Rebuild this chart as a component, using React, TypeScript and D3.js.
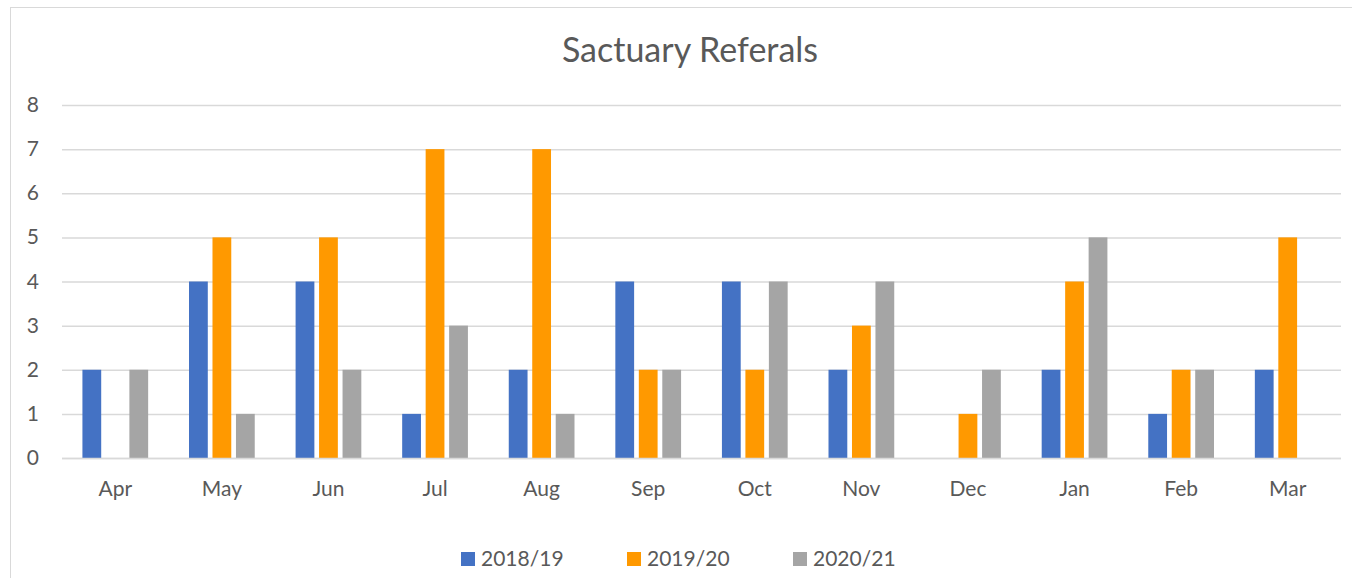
import React, { useEffect, useRef } from 'react';
import * as d3 from 'd3';

const months = ['Apr', 'May', 'Jun', 'Jul', 'Aug', 'Sep', 'Oct', 'Nov', 'Dec', 'Jan', 'Feb', 'Mar'];
const seriesNames = ['2018/19', '2019/20', '2020/21'];
const colors = ['#4472C4', '#FF9900', '#A5A5A5'];
const v2018 = [2, 4, 4, 1, 2, 4, 4, 2, 0, 2, 1, 2];
const v2019 = [0, 5, 5, 7, 7, 2, 2, 3, 1, 4, 2, 5];
const v2020 = [2, 1, 2, 3, 1, 2, 4, 4, 2, 5, 2, 0];
const yTicks = [0, 1, 2, 3, 4, 5, 6, 7, 8];

const W = 1352;
const H = 578;
const FONT = 'Lato, "Open Sans", sans-serif';

export default function App() {
    const ref = useRef<SVGSVGElement>(null);

    useEffect(() => {
        const svg = d3.select(ref.current);
        svg.selectAll('*').remove();

        const left = 62, right = 1341, top = 105, bottom = 458;
        const data = [v2018, v2019, v2020];

        svg.append('rect')
            .attr('x', 10.5).attr('y', 7.5)
            .attr('width', W).attr('height', H)
            .attr('fill', '#fff')
            .attr('stroke', '#d9d9d9');

        svg.append('text')
            .attr('x', 690).attr('y', 62)
            .attr('text-anchor', 'middle')
            .attr('font-size', 34)
            .attr('fill', '#595959')
            .text('Sactuary Referals');

        const x = d3.scaleBand().domain(months).range([left, right]);
        const y = d3.scaleLinear().domain([0, 8]).range([bottom, top]);
        const inner = d3.scaleBand().domain(seriesNames)
            .range([0, x.bandwidth()]).paddingInner(0.2).paddingOuter(0.87);

        svg.append('g').selectAll('line').data(yTicks).enter().append('line')
            .attr('x1', left).attr('x2', right)
            .attr('y1', d => y(d) + 0.5).attr('y2', d => y(d) + 0.5)
            .attr('stroke', '#d9d9d9').attr('stroke-width', 1.5);

        svg.append('g').selectAll('text').data(yTicks).enter().append('text')
            .attr('x', 39).attr('y', d => y(d) + 7)
            .attr('text-anchor', 'end')
            .attr('font-size', 21).attr('fill', '#595959')
            .text(d => d);

        data.forEach((vals, si) => {
            svg.append('g').selectAll('rect').data(vals).enter().append('rect')
                .attr('x', (d, i) => (x(months[i]) as number) + (inner(seriesNames[si]) as number))
                .attr('y', d => y(d))
                .attr('width', inner.bandwidth())
                .attr('height', d => bottom - y(d))
                .attr('fill', colors[si]);
        });

        svg.append('line')
            .attr('x1', left).attr('x2', right)
            .attr('y1', bottom + 0.5).attr('y2', bottom + 0.5)
            .attr('stroke', '#d9d9d9').attr('stroke-width', 1.5);

        svg.append('g').selectAll('text').data(months).enter().append('text')
            .attr('x', d => (x(d) as number) + x.bandwidth() / 2)
            .attr('y', 496)
            .attr('text-anchor', 'middle')
            .attr('font-size', 21).attr('fill', '#595959')
            .text(d => d);

        const legendX = [461, 627, 793];
        seriesNames.forEach((s, i) => {
            svg.append('rect')
                .attr('x', legendX[i]).attr('y', 552)
                .attr('width', 14).attr('height', 14)
                .attr('fill', colors[i]);
            svg.append('text')
                .attr('x', legendX[i] + 20).attr('y', 566)
                .attr('font-size', 21).attr('fill', '#595959')
                .text(s);
        });
    }, []);

    return (
        <svg ref={ref} width={W} height={H}
            style={{ position: 'absolute', left: 0, top: 0, fontFamily: FONT, background: '#fff' }} />
    );
}
